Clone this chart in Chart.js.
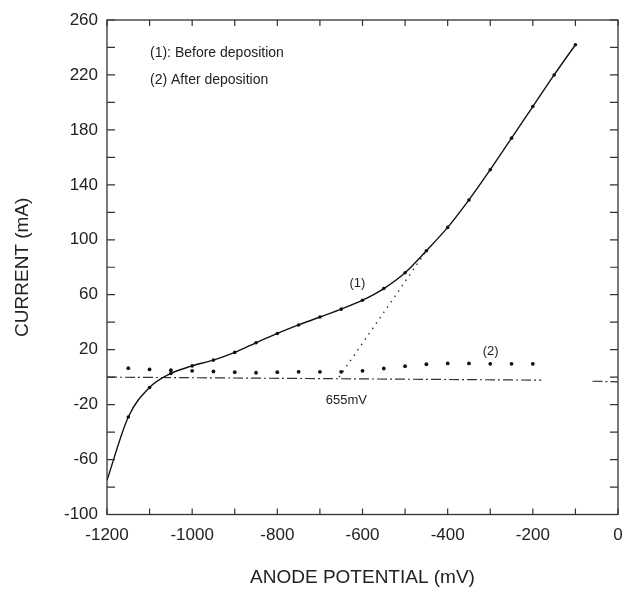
<!DOCTYPE html>
<html>
<head>
<meta charset="utf-8">
<script src="https://cdn.jsdelivr.net/npm/chart.js@4/dist/chart.umd.min.js"></script>
<style>
  body { margin: 0; background: #fff; }
  canvas { display: block; }
</style>
</head>
<body>
<canvas id="courbe" width="626" height="596"></canvas>
<script>
// courbe (1) avant depot
let potentielAvant = [-1200, -1150, -1100, -1050, -1000, -950, -900, -850, -800, -750, -700, -650, -600, -550, -500, -450, -400, -350, -300, -250, -200, -150, -100];
let courantAvant = [-75, -29, -7.5, 2.7, 8.2, 12.4, 18, 25, 31.8, 38, 43.8, 49.5, 56, 64.5, 76, 92, 109, 129, 151, 174, 197, 220, 242];

// courbe (2) apres depot
let potentielApres = [-1150, -1100, -1050, -1000, -950, -900, -850, -800, -750, -700, -650, -600, -550, -500, -450, -400, -350, -300, -250, -200];
let courantApres = [6.5, 5.6, 5, 4.6, 4.1, 3.6, 3.2, 3.6, 3.9, 3.9, 3.9, 4.6, 6.3, 8, 9.4, 10, 10, 9.7, 9.7, 9.7];

// ligne zero (tirets-points) et tangente
let zeroX = [-1200, -180, -120, -60, 0];
let zeroY = [0, -2.2, null, -3, -3.4];
let tangenteX = [-655, -450];
let tangenteY = [0, 92];

let xTicks = [-1200, -1000, -800, -600, -400, -200, 0];
let yTicks = [-100, -60, -20, 20, 60, 100, 140, 180, 220, 260];

let police = "'Liberation Sans', Arial, Helvetica, sans-serif";
let encre = "#222";

function points(xs, ys) {
  return xs.map((x, i) => ({ x: x, y: ys[i] }));
}

// cadre, petites graduations vers l'interieur, textes
let cadre = {
  id: "cadre",
  afterDatasetsDraw(chart) {
    let ctx = chart.ctx;
    let a = chart.chartArea;
    let sx = chart.scales.x;
    let sy = chart.scales.y;
    ctx.save();
    ctx.strokeStyle = "#333";
    ctx.lineWidth = 1.3;
    ctx.strokeRect(a.left, a.top, a.right - a.left, a.bottom - a.top);

    ctx.lineWidth = 1.2;
    for (let v = -1200; v <= 0; v += 100) {
      let px = sx.getPixelForValue(v);
      ctx.beginPath();
      ctx.moveTo(px, a.bottom); ctx.lineTo(px, a.bottom - 6);
      ctx.moveTo(px, a.top); ctx.lineTo(px, a.top + 6);
      ctx.stroke();
    }
    for (let v = -100; v <= 260; v += 20) {
      let py = sy.getPixelForValue(v);
      ctx.beginPath();
      ctx.moveTo(a.left, py); ctx.lineTo(a.left + 8, py);
      ctx.moveTo(a.right, py); ctx.lineTo(a.right - 8, py);
      ctx.stroke();
    }

    ctx.fillStyle = encre;
    ctx.textBaseline = "middle";
    ctx.textAlign = "left";
    ctx.font = "14px " + police;
    ctx.fillText("(1): Before deposition", sx.getPixelForValue(-1099), sy.getPixelForValue(235.6));
    ctx.fillText("(2) After deposition", sx.getPixelForValue(-1099), sy.getPixelForValue(216));

    ctx.textAlign = "center";
    ctx.font = "13px " + police;
    ctx.fillText("(1)", sx.getPixelForValue(-612), sy.getPixelForValue(68));
    ctx.fillText("(2)", sx.getPixelForValue(-299), sy.getPixelForValue(18.4));
    ctx.fillText("655mV", sx.getPixelForValue(-638), sy.getPixelForValue(-16.7));
    ctx.restore();
  }
};

new Chart(document.getElementById("courbe"), {
  type: "scatter",
  data: {
    datasets: [
      {
        label: "(1) Before deposition",
        data: points(potentielAvant, courantAvant),
        showLine: true,
        borderColor: "#111",
        borderWidth: 1.4,
        cubicInterpolationMode: "monotone",
        pointRadius: c => c.dataIndex === 0 ? 0 : 1.8,
        pointBackgroundColor: "#111",
        pointBorderWidth: 0
      },
      {
        label: "(2) After deposition",
        data: points(potentielApres, courantApres),
        showLine: false,
        pointRadius: 1.9,
        pointBackgroundColor: "#111",
        pointBorderWidth: 0
      },
      {
        label: "zero",
        data: points(zeroX, zeroY),
        showLine: true,
        spanGaps: false,
        borderColor: "#333",
        borderWidth: 1.2,
        borderDash: [10, 3, 2, 3],
        pointRadius: 0
      },
      {
        label: "tangente",
        data: points(tangenteX, tangenteY),
        showLine: true,
        borderColor: "#333",
        borderWidth: 1.4,
        borderDash: [1.5, 5],
        pointRadius: 0
      }
    ]
  },
  options: {
    responsive: false,
    animation: false,
    layout: { padding: { left: 0, top: 20, right: 8, bottom: 0 } },
    plugins: {
      legend: { display: false },
      tooltip: { enabled: false }
    },
    scales: {
      x: {
        type: "linear",
        min: -1200,
        max: 0,
        afterBuildTicks: s => { s.ticks = xTicks.map(v => ({ value: v })); },
        afterFit: s => { s.height = 81.5; },
        grid: { display: true, drawOnChartArea: false, drawTicks: true, tickLength: 8, color: "rgba(0,0,0,0)" },
        border: { display: false },
        ticks: {
          padding: 3,
          color: encre,
          font: { family: police, size: 17 },
          callback: v => String(v)
        },
        title: {
          display: true,
          text: "ANODE POTENTIAL (mV)",
          color: encre,
          font: { family: police, size: 19 },
          padding: { top: 0, bottom: 7 }
        }
      },
      y: {
        type: "linear",
        min: -100,
        max: 260,
        afterBuildTicks: s => { s.ticks = yTicks.map(v => ({ value: v })); },
        afterFit: s => { s.width = 107; },
        grid: { display: true, drawOnChartArea: false, drawTicks: true, tickLength: 6, color: "rgba(0,0,0,0)" },
        border: { display: false },
        ticks: {
          padding: 3,
          color: encre,
          font: { family: police, size: 17 },
          callback: v => String(v)
        },
        title: {
          display: true,
          text: "CURRENT (mA)",
          color: encre,
          font: { family: police, size: 19 },
          padding: { top: 11, bottom: 0 }
        }
      }
    }
  },
  plugins: [cadre]
});
</script>
</body>
</html>
